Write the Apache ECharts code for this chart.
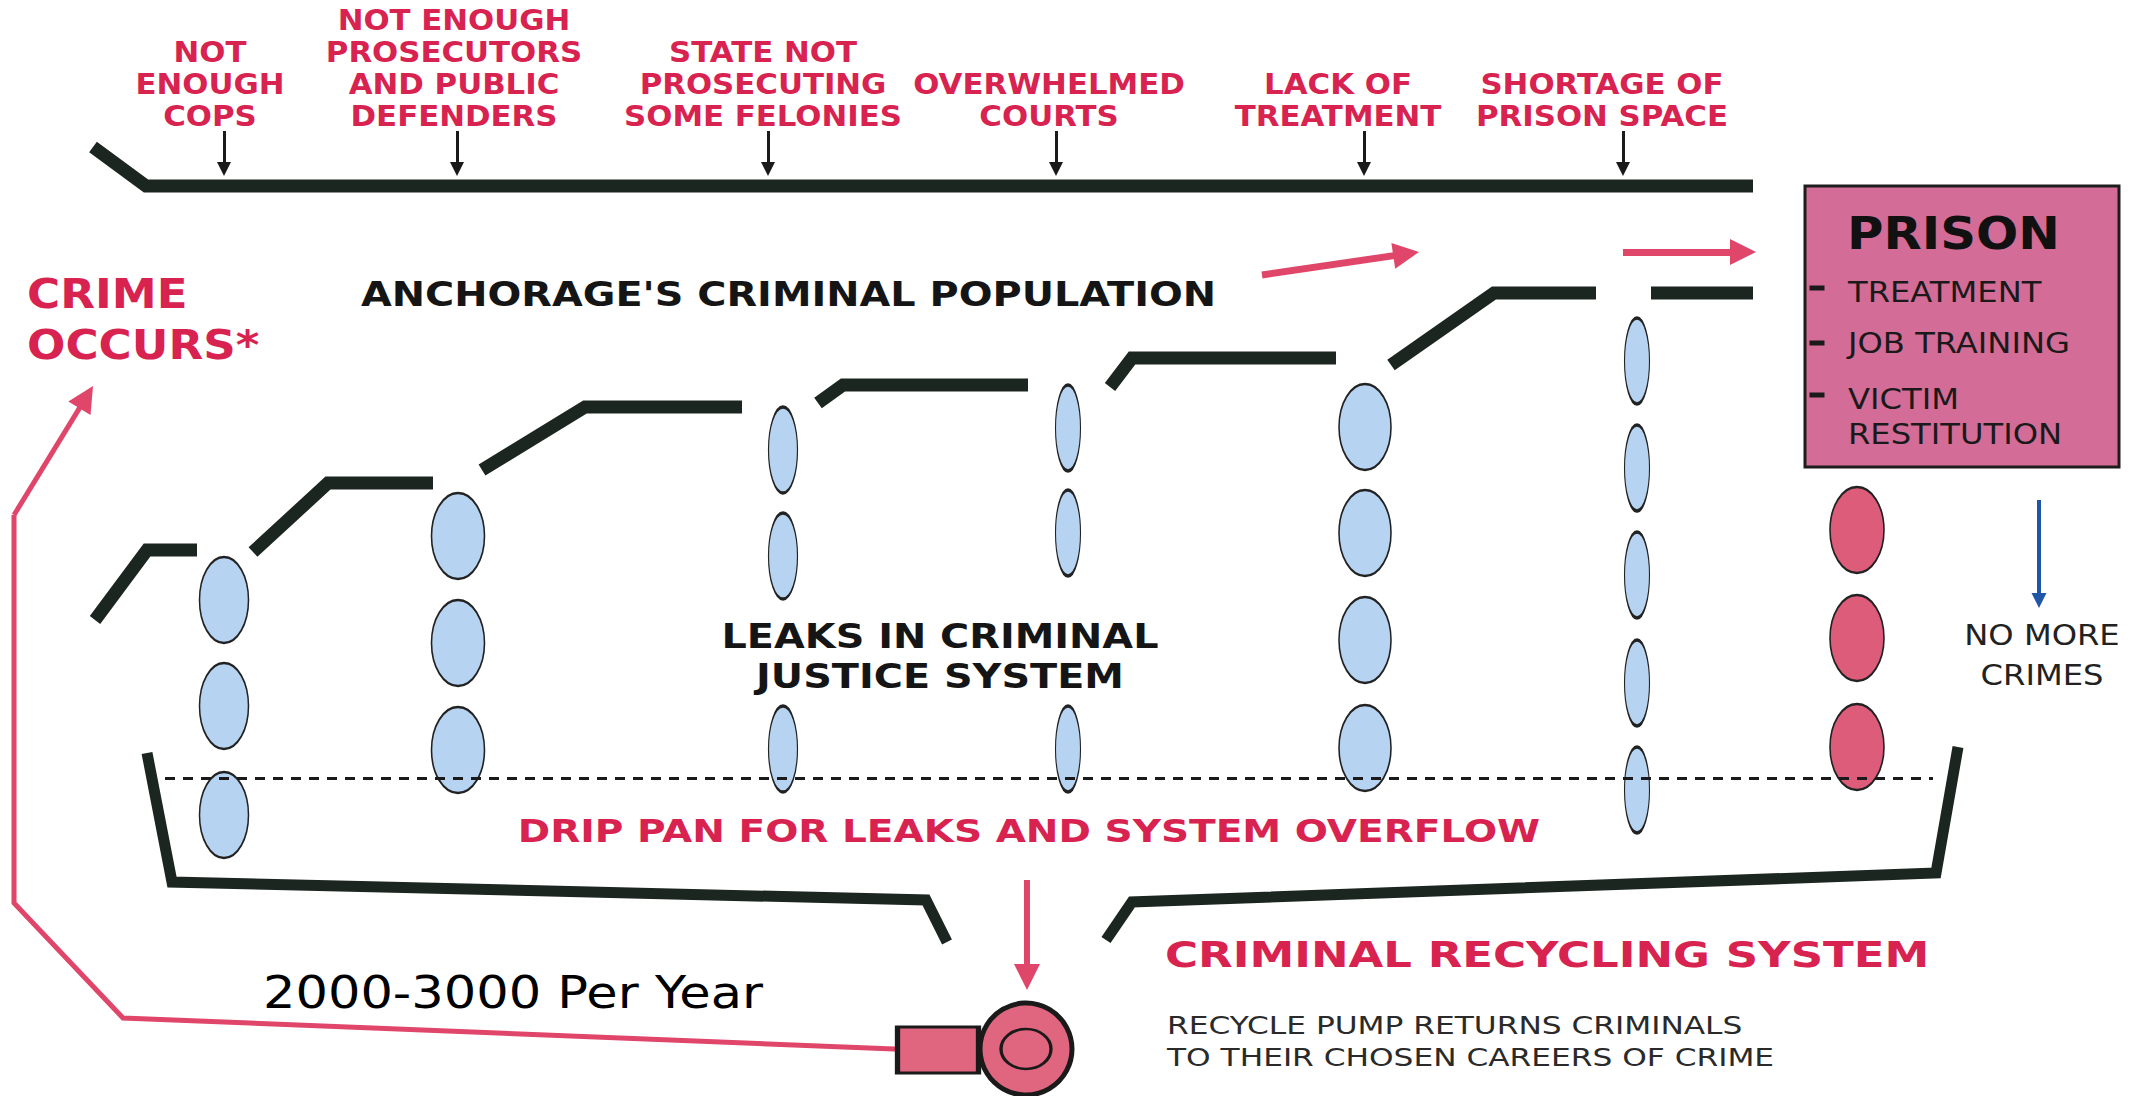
<!DOCTYPE html>
<html>
<head>
<meta charset="utf-8">
<title>Criminal Recycling System</title>
<script src="https://cdn.jsdelivr.net/npm/echarts@6/dist/echarts.min.js"></script>
<style>
  html, body { margin: 0; padding: 0; background: #fff; }
  #diagram { width: 2147px; height: 1096px; }
</style>
</head>
<body>
<div id="diagram"></div>
<script>
var W = 2147, H = 1096;

// main pipe (top wall) and the stepped lower wall, in picture units
var topPipe = [[93, 147], [146, 186], [1753, 186]];
var stepPipes = [
  [[95, 620], [147, 550], [197, 550]],
  [[253, 552], [328, 483], [433, 483]],
  [[482, 470], [585, 407], [742, 407]],
  [[818, 403], [843, 385], [1028, 385]],
  [[1110, 387], [1132, 358], [1336, 358]],
  [[1391, 365], [1494, 293], [1596, 293]],
  [[1651, 293], [1753, 293]]
];
// drip pan
var panPieces = [
  [[147, 753], [172, 882], [926, 900], [947, 942]],
  [[1106, 940], [1132, 902], [1936, 873], [1958, 747]]
];
var dripLevel = [[165, 778], [1933, 778]];
// red return pipe from the pump back to "crime occurs"
var returnPipe = [[919, 1050], [123, 1018], [14, 903], [14, 515]];
// arrows: [start, tip]
var redArrows = [
  [[14, 515], [93, 386]],
  [[1262, 275], [1419, 252]],
  [[1623, 252], [1756, 252]],
  [[1027, 880], [1027, 990]]
];
var causeArrowX = [224, 457, 768, 1056, 1364, 1623];
var causeArrowY = [131, 176];
var outArrow = [[2039, 500], [2039, 608]];

// leaks (ellipses)
var leakX = [224, 458, 783, 1068, 1365, 1637];
var leakW = [49, 53, 29, 25, 52, 25];
var leakY = [
  [600, 706, 815],
  [536, 643, 750],
  [450, 556, 749],
  [428, 533, 749],
  [427, 533, 640, 748],
  [361, 468, 575, 683, 790]
];
var prisonLeakX = 1857;
var prisonLeakY = [530, 638, 747];

// pump and prison
var pumpBody = [938, 1050];
var pumpWheel = [1026, 1049];
var prisonBox = [[1805, 186], [2119, 467]];
var prisonBulletY = [288, 343, 395];

// text
var causeLabels = [
  ["NOT", "ENOUGH", "COPS"],
  ["NOT ENOUGH", "PROSECUTORS", "AND PUBLIC", "DEFENDERS"],
  ["STATE NOT", "PROSECUTING", "SOME FELONIES"],
  ["OVERWHELMED", "COURTS"],
  ["LACK OF", "TREATMENT"],
  ["SHORTAGE OF", "PRISON SPACE"]
];
var causeLabelX = [210, 454, 763, 1049, 1338, 1602];
var crimeLines = ["CRIME", "OCCURS*"];
var populationTitle = "ANCHORAGE'S CRIMINAL POPULATION";
var leakLines = ["LEAKS IN CRIMINAL", "JUSTICE SYSTEM"];
var panTitle = "DRIP PAN FOR LEAKS AND SYSTEM OVERFLOW";
var recycleTitle = "CRIMINAL RECYCLING SYSTEM";
var pumpNote = ["RECYCLE PUMP RETURNS CRIMINALS", "TO THEIR CHOSEN CAREERS OF CRIME"];
var yearlyCount = "2000-3000 Per Year";
var prisonTitle = "PRISON";
var prisonItems = ["TREATMENT", "JOB TRAINING", "VICTIM", "RESTITUTION"];
var outcomeLines = ["NO MORE", "CRIMES"];

var RED = "#d8224f";
var FONT = '"DejaVu Sans", Verdana, sans-serif';
var ELLIPSE = "path://M0 50A50 50 0 1 1 100 50A50 50 0 1 1 0 50Z";
var LEAK_H = 86;

var textStyles = {
  cause: { font: "bold 28px " + FONT, fill: RED, sx: 1.1 },
  crime: { font: "bold 40px " + FONT, fill: RED, sx: 1.13 },
  head: { font: "bold 34px " + FONT, fill: "#151515", sx: 1.17 },
  pan: { font: "bold 32px " + FONT, fill: RED, sx: 1.22 },
  recycle: { font: "bold 36px " + FONT, fill: RED, sx: 1.25 },
  note: { font: "25px " + FONT, fill: "#2a2a2a", sx: 1.25 },
  count: { font: "44px " + FONT, fill: "#000", sx: 1.16 },
  prison: { font: "bold 44px " + FONT, fill: "#111", sx: 1.13 },
  item: { font: "28px " + FONT, fill: "#1a1a1a", sx: 1.15 },
  outcome: { font: "28px " + FONT, fill: "#222", sx: 1.15 }
};

// collect text items
var texts = [];
function addText(x, y, text, style, align) {
  texts.push({ x: x, y: y, text: text, style: style, align: align || "center" });
}
causeLabels.forEach(function (lines, i) {
  lines.forEach(function (t, j) {
    addText(causeLabelX[i], 116 - (lines.length - 1 - j) * 32, t, "cause");
  });
});
addText(27, 294, crimeLines[0], "crime", "left");
addText(27, 345, crimeLines[1], "crime", "left");
addText(361, 295, populationTitle, "head", "left");
addText(940, 637, leakLines[0], "head");
addText(940, 677, leakLines[1], "head");
addText(1029, 831, panTitle, "pan");
addText(1165, 955, recycleTitle, "recycle", "left");
addText(1167, 1026, pumpNote[0], "note", "left");
addText(1167, 1058, pumpNote[1], "note", "left");
addText(263, 993, yearlyCount, "count", "left");
addText(1847, 234, prisonTitle, "prison", "left");
[292, 343, 399, 434].forEach(function (y, i) {
  addText(1848, y, prisonItems[i], "item", "left");
});
addText(2042, 635, outcomeLines[0], "outcome");
addText(2042, 675, outcomeLines[1], "outcome");

// arrow helper: line ends at the centre of the head
function arrowCoords(seg, head) {
  var a = seg[0], b = seg[1];
  var dx = b[0] - a[0], dy = b[1] - a[1];
  var len = Math.sqrt(dx * dx + dy * dy);
  return [a, [b[0] - dx / len * head / 2, b[1] - dy / len * head / 2]];
}

var leakData = [];
leakX.forEach(function (x, i) {
  leakY[i].forEach(function (y) {
    leakData.push({ value: [x, y], symbolSize: [leakW[i], LEAK_H] });
  });
});

var diagram = echarts.init(document.getElementById("diagram"), null, { renderer: "svg" });

var option = {
  animation: false,
  backgroundColor: "#fff",
  grid: { left: 0, right: 0, top: 0, bottom: 0 },
  xAxis: { type: "value", min: 0, max: W, show: false },
  yAxis: { type: "value", min: 0, max: H, inverse: true, show: false },
  series: [
    {
      // pipes
      type: "lines",
      coordinateSystem: "cartesian2d",
      polyline: true,
      silent: true,
      z: 3,
      lineStyle: { color: "#1c2620", width: 13, opacity: 1, join: "miter", cap: "butt" },
      data: [topPipe].concat(stepPipes).map(function (c) { return { coords: c }; })
    },
    {
      type: "lines",
      coordinateSystem: "cartesian2d",
      polyline: true,
      silent: true,
      z: 3,
      lineStyle: { color: "#1c2620", width: 11, opacity: 1, join: "miter", cap: "butt" },
      data: panPieces.map(function (c) { return { coords: c }; })
    },
    {
      type: "lines",
      coordinateSystem: "cartesian2d",
      polyline: true,
      silent: true,
      z: 3,
      lineStyle: { color: "#e0456a", width: 5, opacity: 1, join: "miter" },
      data: [{ coords: returnPipe }]
    },
    {
      type: "lines",
      coordinateSystem: "cartesian2d",
      silent: true,
      z: 3,
      symbol: ["none", "triangle"],
      symbolSize: [0, 26],
      lineStyle: { color: "#e0456a", width: 7, opacity: 1 },
      data: redArrows.map(function (s, i) {
        return { coords: arrowCoords(s, 26), lineStyle: { width: i === 0 ? 5 : i === 3 ? 6 : 7 } };
      })
    },
    {
      type: "lines",
      coordinateSystem: "cartesian2d",
      silent: true,
      z: 3,
      symbol: ["none", "triangle"],
      symbolSize: [0, 14],
      lineStyle: { color: "#1a1a1a", width: 3, opacity: 1 },
      data: causeArrowX.map(function (x) {
        return { coords: arrowCoords([[x, causeArrowY[0]], [x, causeArrowY[1]]], 14) };
      })
    },
    {
      type: "lines",
      coordinateSystem: "cartesian2d",
      silent: true,
      z: 3,
      symbol: ["none", "triangle"],
      symbolSize: [0, 15],
      lineStyle: { color: "#1f56a8", width: 4, opacity: 1 },
      data: [{ coords: arrowCoords(outArrow, 15) }]
    },
    {
      // leaks
      type: "scatter",
      silent: true,
      z: 4,
      symbol: ELLIPSE,
      itemStyle: { color: "#b6d3f1", borderColor: "#222", borderWidth: 2, opacity: 1 },
      data: leakData
    },
    {
      type: "scatter",
      silent: true,
      z: 4,
      symbol: ELLIPSE,
      symbolSize: [54, LEAK_H],
      itemStyle: { color: "#dc5c79", borderColor: "#222", borderWidth: 2, opacity: 1 },
      data: prisonLeakY.map(function (y) { return [prisonLeakX, y]; })
    },
    {
      // drip level
      type: "lines",
      coordinateSystem: "cartesian2d",
      silent: true,
      z: 5,
      lineStyle: { color: "#1a1a1a", width: 3, opacity: 1, type: [10, 8] },
      data: [{ coords: dripLevel }]
    },
    {
      // pump
      type: "scatter",
      silent: true,
      z: 6,
      itemStyle: { color: "#e0667f", borderColor: "#1a1a1a", borderWidth: 4, opacity: 1 },
      data: [
        { value: pumpBody, symbol: "rect", symbolSize: [81, 46] },
        { value: pumpWheel, symbol: "circle", symbolSize: 92, itemStyle: { borderWidth: 5 } },
        { value: pumpWheel, symbol: ELLIPSE, symbolSize: [50, 40], itemStyle: { borderWidth: 3 } }
      ]
    },
    {
      // prison box with bullets
      type: "scatter",
      silent: true,
      z: 6,
      symbol: "rect",
      symbolSize: [15, 5],
      itemStyle: { color: "#1a1a1a", opacity: 1 },
      data: prisonBulletY.map(function (y) { return [1817, y]; }),
      markArea: {
        silent: true,
        label: { show: false },
        itemStyle: { color: "#d46c98", borderColor: "#1d1d1d", borderWidth: 3, opacity: 1 },
        data: [[{ coord: prisonBox[0] }, { coord: prisonBox[1] }]]
      }
    },
    {
      // all texts
      type: "custom",
      coordinateSystem: "cartesian2d",
      silent: true,
      z: 20,
      data: texts.map(function (t) { return [t.x, t.y]; }),
      renderItem: function (params, api) {
        var t = texts[params.dataIndex];
        var s = textStyles[t.style];
        var p = api.coord([api.value(0), api.value(1)]);
        return {
          type: "text",
          x: p[0],
          y: p[1],
          scaleX: s.sx,
          style: {
            text: t.text,
            font: s.font,
            fill: s.fill,
            align: t.align,
            verticalAlign: "middle"
          }
        };
      }
    }
  ]
};

diagram.setOption(option);
window.addEventListener("resize", function () { diagram.resize(); });
</script>
</body>
</html>
